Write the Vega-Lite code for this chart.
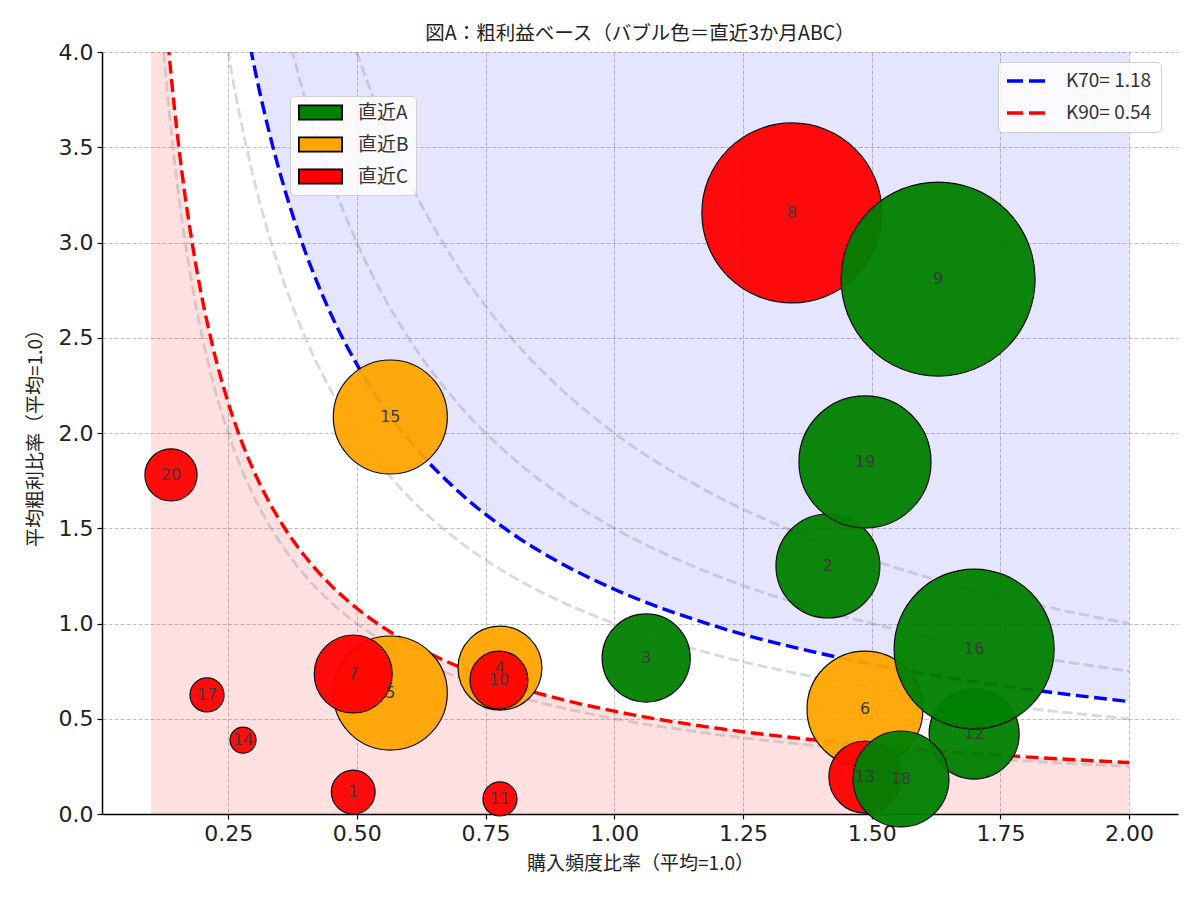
{
  "$schema": "https://vega.github.io/schema/vega-lite/v6.json",
  "width": 1076,
  "height": 762,
  "autosize": {"type": "none"},
  "padding": {"left": 102, "top": 52, "right": 22, "bottom": 86},
  "background": "white",
  "title": {"text": "図A：粗利益ベース（バブル色＝直近3か月ABC）", "font": "Noto Sans CJK JP", "fontSize": 19.5, "fontWeight": "normal", "color": "#222", "anchor": "middle", "offset": -3},
  "datasets": {
    "bubbles": [
      {"id": 1, "x": 0.493, "y": 0.115, "v": 4.8, "abc": "直近C"},
      {"id": 2, "x": 1.415, "y": 1.302, "v": 27.0, "abc": "直近A"},
      {"id": 3, "x": 1.062, "y": 0.819, "v": 19.4, "abc": "直近A"},
      {"id": 4, "x": 0.778, "y": 0.766, "v": 17.6, "abc": "直近B"},
      {"id": 5, "x": 0.565, "y": 0.635, "v": 32.5, "abc": "直近B"},
      {"id": 6, "x": 1.487, "y": 0.551, "v": 33.6, "abc": "直近B"},
      {"id": 7, "x": 0.493, "y": 0.735, "v": 15.2, "abc": "直近C"},
      {"id": 8, "x": 1.345, "y": 3.155, "v": 81.0, "abc": "直近C"},
      {"id": 9, "x": 1.629, "y": 2.808, "v": 94.1, "abc": "直近A"},
      {"id": 10, "x": 0.776, "y": 0.703, "v": 8.4, "abc": "直近C"},
      {"id": 11, "x": 0.778, "y": 0.079, "v": 2.9, "abc": "直近C"},
      {"id": 12, "x": 1.699, "y": 0.42, "v": 20.3, "abc": "直近A"},
      {"id": 13, "x": 1.487, "y": 0.194, "v": 13.0, "abc": "直近C"},
      {"id": 14, "x": 0.279, "y": 0.388, "v": 1.7, "abc": "直近C"},
      {"id": 15, "x": 0.565, "y": 2.084, "v": 32.5, "abc": "直近B"},
      {"id": 16, "x": 1.699, "y": 0.866, "v": 64.0, "abc": "直近A"},
      {"id": 17, "x": 0.209, "y": 0.625, "v": 2.9, "abc": "直近C"},
      {"id": 18, "x": 1.557, "y": 0.184, "v": 23.0, "abc": "直近A"},
      {"id": 19, "x": 1.487, "y": 1.848, "v": 43.6, "abc": "直近A"},
      {"id": 20, "x": 0.139, "y": 1.78, "v": 6.8, "abc": "直近C"}
    ],
    "curves": [
      {"c": "K90= 0.54", "x": 0.1, "y": 5.4}, {"c": "K90= 0.54", "x": 0.11, "y": 4.909}, {"c": "K90= 0.54", "x": 0.12, "y": 4.5}, {"c": "K90= 0.54", "x": 0.13, "y": 4.154}, {"c": "K90= 0.54", "x": 0.14, "y": 3.857}, {"c": "K90= 0.54", "x": 0.15, "y": 3.6}, {"c": "K90= 0.54", "x": 0.16, "y": 3.375}, {"c": "K90= 0.54", "x": 0.18, "y": 3.0}, {"c": "K90= 0.54", "x": 0.2, "y": 2.7}, {"c": "K90= 0.54", "x": 0.22, "y": 2.455}, {"c": "K90= 0.54", "x": 0.25, "y": 2.16}, {"c": "K90= 0.54", "x": 0.28, "y": 1.929}, {"c": "K90= 0.54", "x": 0.3, "y": 1.8}, {"c": "K90= 0.54", "x": 0.33, "y": 1.636}, {"c": "K90= 0.54", "x": 0.36, "y": 1.5}, {"c": "K90= 0.54", "x": 0.4, "y": 1.35}, {"c": "K90= 0.54", "x": 0.45, "y": 1.2}, {"c": "K90= 0.54", "x": 0.5, "y": 1.08}, {"c": "K90= 0.54", "x": 0.55, "y": 0.982}, {"c": "K90= 0.54", "x": 0.6, "y": 0.9}, {"c": "K90= 0.54", "x": 0.7, "y": 0.771}, {"c": "K90= 0.54", "x": 0.8, "y": 0.675}, {"c": "K90= 0.54", "x": 0.9, "y": 0.6}, {"c": "K90= 0.54", "x": 1.0, "y": 0.54}, {"c": "K90= 0.54", "x": 1.2, "y": 0.45}, {"c": "K90= 0.54", "x": 1.4, "y": 0.386}, {"c": "K90= 0.54", "x": 1.6, "y": 0.3375}, {"c": "K90= 0.54", "x": 1.8, "y": 0.3}, {"c": "K90= 0.54", "x": 2.0, "y": 0.27},
      {"c": "K70= 1.18", "x": 0.28, "y": 4.214}, {"c": "K70= 1.18", "x": 0.3, "y": 3.933}, {"c": "K70= 1.18", "x": 0.33, "y": 3.576}, {"c": "K70= 1.18", "x": 0.36, "y": 3.278}, {"c": "K70= 1.18", "x": 0.4, "y": 2.95}, {"c": "K70= 1.18", "x": 0.45, "y": 2.622}, {"c": "K70= 1.18", "x": 0.5, "y": 2.36}, {"c": "K70= 1.18", "x": 0.55, "y": 2.145}, {"c": "K70= 1.18", "x": 0.6, "y": 1.967}, {"c": "K70= 1.18", "x": 0.7, "y": 1.686}, {"c": "K70= 1.18", "x": 0.8, "y": 1.475}, {"c": "K70= 1.18", "x": 0.9, "y": 1.311}, {"c": "K70= 1.18", "x": 1.0, "y": 1.18}, {"c": "K70= 1.18", "x": 1.2, "y": 0.983}, {"c": "K70= 1.18", "x": 1.4, "y": 0.843}, {"c": "K70= 1.18", "x": 1.6, "y": 0.7375}, {"c": "K70= 1.18", "x": 1.8, "y": 0.656}, {"c": "K70= 1.18", "x": 2.0, "y": 0.59},
      {"c": "G0.5", "x": 0.1, "y": 5.0}, {"c": "G0.5", "x": 0.11, "y": 4.545}, {"c": "G0.5", "x": 0.12, "y": 4.167}, {"c": "G0.5", "x": 0.13, "y": 3.846}, {"c": "G0.5", "x": 0.14, "y": 3.571}, {"c": "G0.5", "x": 0.15, "y": 3.333}, {"c": "G0.5", "x": 0.16, "y": 3.125}, {"c": "G0.5", "x": 0.18, "y": 2.778}, {"c": "G0.5", "x": 0.2, "y": 2.5}, {"c": "G0.5", "x": 0.22, "y": 2.273}, {"c": "G0.5", "x": 0.25, "y": 2.0}, {"c": "G0.5", "x": 0.28, "y": 1.786}, {"c": "G0.5", "x": 0.3, "y": 1.667}, {"c": "G0.5", "x": 0.33, "y": 1.515}, {"c": "G0.5", "x": 0.36, "y": 1.389}, {"c": "G0.5", "x": 0.4, "y": 1.25}, {"c": "G0.5", "x": 0.45, "y": 1.111}, {"c": "G0.5", "x": 0.5, "y": 1.0}, {"c": "G0.5", "x": 0.55, "y": 0.909}, {"c": "G0.5", "x": 0.6, "y": 0.833}, {"c": "G0.5", "x": 0.7, "y": 0.714}, {"c": "G0.5", "x": 0.8, "y": 0.625}, {"c": "G0.5", "x": 0.9, "y": 0.556}, {"c": "G0.5", "x": 1.0, "y": 0.5}, {"c": "G0.5", "x": 1.2, "y": 0.417}, {"c": "G0.5", "x": 1.4, "y": 0.357}, {"c": "G0.5", "x": 1.6, "y": 0.3125}, {"c": "G0.5", "x": 1.8, "y": 0.278}, {"c": "G0.5", "x": 2.0, "y": 0.25},
      {"c": "G1.0", "x": 0.22, "y": 4.545}, {"c": "G1.0", "x": 0.25, "y": 4.0}, {"c": "G1.0", "x": 0.28, "y": 3.571}, {"c": "G1.0", "x": 0.3, "y": 3.333}, {"c": "G1.0", "x": 0.33, "y": 3.03}, {"c": "G1.0", "x": 0.36, "y": 2.778}, {"c": "G1.0", "x": 0.4, "y": 2.5}, {"c": "G1.0", "x": 0.45, "y": 2.222}, {"c": "G1.0", "x": 0.5, "y": 2.0}, {"c": "G1.0", "x": 0.55, "y": 1.818}, {"c": "G1.0", "x": 0.6, "y": 1.667}, {"c": "G1.0", "x": 0.7, "y": 1.429}, {"c": "G1.0", "x": 0.8, "y": 1.25}, {"c": "G1.0", "x": 0.9, "y": 1.111}, {"c": "G1.0", "x": 1.0, "y": 1.0}, {"c": "G1.0", "x": 1.2, "y": 0.833}, {"c": "G1.0", "x": 1.4, "y": 0.714}, {"c": "G1.0", "x": 1.6, "y": 0.625}, {"c": "G1.0", "x": 1.8, "y": 0.556}, {"c": "G1.0", "x": 2.0, "y": 0.5},
      {"c": "G1.5", "x": 0.33, "y": 4.545}, {"c": "G1.5", "x": 0.36, "y": 4.167}, {"c": "G1.5", "x": 0.4, "y": 3.75}, {"c": "G1.5", "x": 0.45, "y": 3.333}, {"c": "G1.5", "x": 0.5, "y": 3.0}, {"c": "G1.5", "x": 0.55, "y": 2.727}, {"c": "G1.5", "x": 0.6, "y": 2.5}, {"c": "G1.5", "x": 0.7, "y": 2.143}, {"c": "G1.5", "x": 0.8, "y": 1.875}, {"c": "G1.5", "x": 0.9, "y": 1.667}, {"c": "G1.5", "x": 1.0, "y": 1.5}, {"c": "G1.5", "x": 1.2, "y": 1.25}, {"c": "G1.5", "x": 1.4, "y": 1.071}, {"c": "G1.5", "x": 1.6, "y": 0.9375}, {"c": "G1.5", "x": 1.8, "y": 0.833}, {"c": "G1.5", "x": 2.0, "y": 0.75},
      {"c": "G2.0", "x": 0.45, "y": 4.444}, {"c": "G2.0", "x": 0.5, "y": 4.0}, {"c": "G2.0", "x": 0.55, "y": 3.636}, {"c": "G2.0", "x": 0.6, "y": 3.333}, {"c": "G2.0", "x": 0.7, "y": 2.857}, {"c": "G2.0", "x": 0.8, "y": 2.5}, {"c": "G2.0", "x": 0.9, "y": 2.222}, {"c": "G2.0", "x": 1.0, "y": 2.0}, {"c": "G2.0", "x": 1.2, "y": 1.667}, {"c": "G2.0", "x": 1.4, "y": 1.429}, {"c": "G2.0", "x": 1.6, "y": 1.25}, {"c": "G2.0", "x": 1.8, "y": 1.111}, {"c": "G2.0", "x": 2.0, "y": 1.0}
    ]
  },
  "layer": [
    {
      "data": {"name": "curves"},
      "transform": [{"filter": "datum.c === 'K90= 0.54'"}],
      "mark": {"type": "area", "color": "red", "opacity": 0.12, "clip": true, "interpolate": "monotone"},
      "encoding": {
        "x": {"field": "x", "type": "quantitative", "scale": {"domain": [0.005, 2.095], "nice": false, "zero": false},
          "axis": {"title": "購入頻度比率（平均=1.0）", "values": [0.25, 0.5, 0.75, 1.0, 1.25, 1.5, 1.75, 2.0], "format": ".2f", "titlePadding": 10}},
        "y": {"field": "y", "type": "quantitative", "scale": {"domain": [0, 4], "nice": false, "zero": false},
          "axis": {"title": "平均粗利比率（平均=1.0）", "values": [0, 0.5, 1, 1.5, 2, 2.5, 3, 3.5, 4], "format": ".1f", "titlePadding": 13}},
        "y2": {"datum": 0}
      }
    },
    {
      "data": {"name": "curves"},
      "transform": [{"filter": "datum.c === 'K70= 1.18'"}],
      "mark": {"type": "area", "color": "blue", "opacity": 0.1, "clip": true, "interpolate": "monotone"},
      "encoding": {
        "x": {"field": "x", "type": "quantitative"},
        "y": {"field": "y", "type": "quantitative"},
        "y2": {"datum": 4}
      }
    },
    {
      "data": {"name": "curves"},
      "transform": [{"filter": "indexof(datum.c, 'G') === 0"}],
      "mark": {"type": "line", "color": "gray", "opacity": 0.3, "strokeWidth": 2.8, "strokeDash": [10.3, 4.4], "clip": true, "interpolate": "monotone"},
      "encoding": {
        "x": {"field": "x", "type": "quantitative"},
        "y": {"field": "y", "type": "quantitative"},
        "detail": {"field": "c"}
      }
    },
    {
      "data": {"name": "curves"},
      "transform": [{"filter": "indexof(datum.c, 'K') === 0"}],
      "mark": {"type": "line", "strokeWidth": 3.4, "strokeDash": [12.8, 5.6], "clip": true, "interpolate": "monotone"},
      "encoding": {
        "x": {"field": "x", "type": "quantitative"},
        "y": {"field": "y", "type": "quantitative"},
        "stroke": {"field": "c", "type": "nominal", "scale": {"domain": ["K70= 1.18", "K90= 0.54"], "range": ["blue", "red"]},
          "legend": {"title": null, "orient": "none", "legendX": 896, "legendY": 10, "symbolType": "M-2.375,0H2.375", "symbolSize": 256, "symbolOffset": 9, "symbolFillColor": "transparent", "symbolStrokeWidth": 3.4, "symbolDash": [16, 6], "labelFont": "Noto Sans CJK JP", "labelFontSize": 19, "labelColor": "#333", "labelOffset": 30, "rowPadding": 12, "padding": 9, "strokeColor": "#d0d0d0", "fillColor": "rgba(255,255,255,0.8)", "cornerRadius": 4}}
      }
    },
    {
      "mark": {"type": "rule", "color": "gray", "strokeWidth": 2.8, "strokeDash": [10.3, 4.4]},
      "encoding": {"x": {"datum": 1, "type": "quantitative"}}
    },
    {
      "mark": {"type": "rule", "color": "gray", "strokeWidth": 2.8, "strokeDash": [10.3, 4.4]},
      "encoding": {"y": {"datum": 1, "type": "quantitative"}}
    },
    {
      "data": {"name": "bubbles"},
      "mark": {"type": "circle", "stroke": "black", "strokeWidth": 1.2, "opacity": 0.95},
      "encoding": {
        "x": {"field": "x", "type": "quantitative"},
        "y": {"field": "y", "type": "quantitative"},
        "size": {"field": "v", "type": "quantitative", "scale": {"type": "linear", "domain": [0, 100], "range": [0, 40000], "zero": true}, "legend": null},
        "fill": {"field": "abc", "type": "nominal", "scale": {"domain": ["直近A", "直近B", "直近C"], "range": ["green", "orange", "red"]},
          "legend": {"title": null, "orient": "none", "legendX": 188, "legendY": 44, "symbolType": "M-2.7,-0.9H2.7V0.9H-2.7Z", "symbolSize": 256, "symbolOffset": 14, "symbolStrokeColor": "black", "symbolStrokeWidth": 1.8, "symbolOpacity": 1, "labelFont": "Noto Sans CJK JP", "labelFontSize": 19, "labelColor": "#333", "labelOffset": 28, "rowPadding": 9, "padding": 7, "strokeColor": "#d0d0d0", "fillColor": "rgba(255,255,255,0.8)", "cornerRadius": 4}},
        "order": {"field": "id", "type": "quantitative"}
      }
    },
    {
      "data": {"name": "bubbles"},
      "mark": {"type": "text", "font": "DejaVu Sans", "fontSize": 16, "color": "#3a3a3a", "baseline": "middle", "align": "center"},
      "encoding": {
        "x": {"field": "x", "type": "quantitative"},
        "y": {"field": "y", "type": "quantitative"},
        "text": {"field": "id", "type": "quantitative"}
      }
    }
  ],
  "config": {
    "view": {"stroke": null},
    "axis": {
      "domainColor": "black", "domainWidth": 1.5, "tickColor": "black", "tickSize": 5, "tickWidth": 1.2,
      "labelFont": "DejaVu Sans", "labelFontSize": 22, "labelColor": "#222", "labelPadding": 4,
      "titleFont": "Noto Sans CJK JP", "titleFontSize": 19, "titleFontWeight": "normal", "titleColor": "#222",
      "grid": true, "gridColor": "#b0b0b0", "gridDash": [4, 2], "gridWidth": 1, "gridOpacity": 0.8
    }
  }
}
